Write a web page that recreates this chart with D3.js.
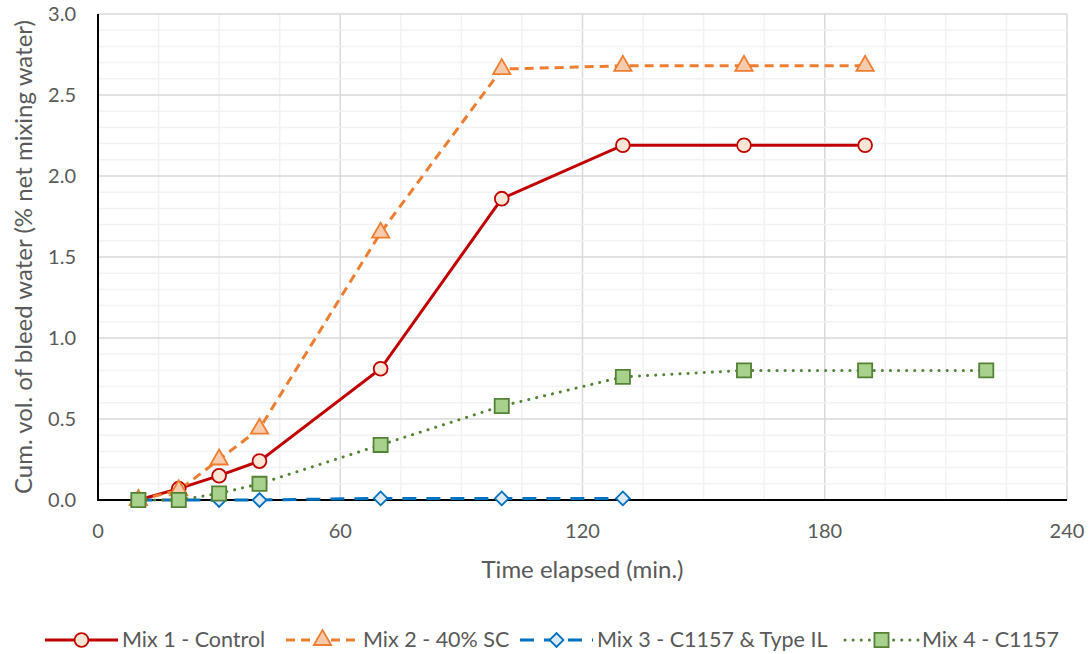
<!DOCTYPE html>
<html lang="en">
<head>
<meta charset="utf-8">
<title>Bleed water</title>
<script src="https://cdn.jsdelivr.net/npm/d3@7"></script>
<style>
  body { margin: 0; background: #fff; }
  text { font-family: Lato, "Open Sans", sans-serif; fill: #595959; }
</style>
</head>
<body>
<svg id="chart" width="1089" height="654"></svg>
<script>
// time (min.) for each series
var times = [10, 20, 30, 40, 70, 100, 130, 160, 190, 220];
var mix1 = [0, 0.07, 0.15, 0.24, 0.81, 1.86, 2.19, 2.19, 2.19];
var mix2 = [0, 0.06, 0.25, 0.44, 1.65, 2.66, 2.68, 2.68, 2.68];
var mix3 = [0, 0, 0, 0, 0.01, 0.01, 0.01];
var mix4 = [0, 0, 0.04, 0.10, 0.34, 0.58, 0.76, 0.80, 0.80, 0.80];
var seriesNames = ["Mix 1 - Control", "Mix 2 - 40% SC", "Mix 3 - C1157 & Type IL", "Mix 4 - C1157"];
var xTicks = [0, 60, 120, 180, 240];
var yTicks = [0, 0.5, 1.0, 1.5, 2.0, 2.5, 3.0];

var series = [
  {name: seriesNames[0], vals: mix1, stroke: "#C00000", fill: "#FBE5D6", dash: null, sym: "circle"},
  {name: seriesNames[1], vals: mix2, stroke: "#ED7D31", fill: "#F8CBAD", dash: "9,6", sym: "triangle"},
  {name: seriesNames[2], vals: mix3, stroke: "#0070C0", fill: "#DEEBF7", dash: "14,10", sym: "diamond"},
  {name: seriesNames[3], vals: mix4, stroke: "#548235", fill: "#A9D18E", dash: "0.1,8", sym: "square"}
];

var svg = d3.select("#chart");
var m = {left: 98, top: 14, right: 22, bottom: 154};
var W = 1089, H = 654;
var x = d3.scaleLinear().domain([0, 240]).range([m.left, W - m.right]);
var y = d3.scaleLinear().domain([0, 3]).range([H - m.bottom, m.top]);

var g = svg.append("g");
// grid: minor every 15 min / 0.1, major every 60 min / 0.5
g.selectAll(".vgrid").data(d3.range(15, 241, 15)).enter().append("line")
  .attr("x1", d => x(d)).attr("x2", d => x(d)).attr("y1", y(0)).attr("y2", y(3))
  .attr("stroke", d => d % 60 === 0 ? "#D9D9D9" : "#F2F2F2").attr("stroke-width", 1.5);
g.selectAll(".hgrid").data(d3.range(1, 31)).enter().append("line")
  .attr("x1", x(0)).attr("x2", x(240)).attr("y1", d => y(d / 10)).attr("y2", d => y(d / 10))
  .attr("stroke", d => d % 5 === 0 ? "#D9D9D9" : "#F2F2F2").attr("stroke-width", 1.5);

// axes
g.append("line").attr("x1", x(0)).attr("x2", x(0)).attr("y1", y(0)).attr("y2", y(3))
  .attr("stroke", "#000").attr("stroke-width", 2);
g.append("line").attr("x1", x(0) - 1).attr("x2", x(240)).attr("y1", y(0)).attr("y2", y(0))
  .attr("stroke", "#000").attr("stroke-width", 2);

g.selectAll(".xt").data(xTicks).enter().append("text")
  .attr("x", d => x(d)).attr("y", y(0) + 38).attr("text-anchor", "middle")
  .attr("font-size", 20).text(d => d);
g.selectAll(".yt").data(yTicks).enter().append("text")
  .attr("x", x(0) - 22).attr("y", d => y(d) + 7).attr("text-anchor", "end")
  .attr("font-size", 20).text(d => d.toFixed(1));

svg.append("text").attr("x", (x(0) + x(240)) / 2).attr("y", 578).attr("text-anchor", "middle")
  .attr("font-size", 24).text("Time elapsed (min.)");
svg.append("text").attr("transform", "translate(32," + ((y(0) + y(3)) / 2) + ") rotate(-90)")
  .attr("text-anchor", "middle").attr("font-size", 24).text("Cum. vol. of bleed water (% net mixing water)");

// diamond drawn as a square turned 45 degrees
function symbolPath(sym) {
  var types = {circle: d3.symbolCircle, triangle: d3.symbolTriangle, diamond: d3.symbolSquare, square: d3.symbolSquare};
  var sizes = {circle: 150, triangle: 130, diamond: 95, square: 200};
  return d3.symbol().type(types[sym]).size(sizes[sym])();
}
function rot(sym) { return sym === "diamond" ? " rotate(45)" : ""; }

var line = d3.line().x(d => x(d[0])).y(d => y(d[1]));
series.forEach(function(s) {
  var pts = s.vals.map((v, i) => [times[i], v]);
  g.append("path").datum(pts).attr("d", line).attr("fill", "none")
    .attr("stroke", s.stroke).attr("stroke-width", 3)
    .attr("stroke-dasharray", s.dash).attr("stroke-linecap", s.sym === "square" ? "round" : "butt");
});
series.forEach(function(s) {
  var pts = s.vals.map((v, i) => [times[i], v]);
  g.selectAll(null).data(pts).enter().append("path")
    .attr("d", symbolPath(s.sym))
    .attr("transform", d => "translate(" + x(d[0]) + "," + y(d[1]) + ")" + rot(s.sym))
    .attr("fill", s.fill).attr("stroke", s.stroke).attr("stroke-width", 1.8);
});

// legend
var legX = [45, 286, 520, 845];
var lg = svg.append("g").attr("transform", "translate(0,640)");
series.forEach(function(s, i) {
  var gi = lg.append("g").attr("transform", "translate(" + legX[i] + ",0)");
  gi.append("line").attr("x1", 0).attr("x2", 73).attr("y1", 0).attr("y2", 0)
    .attr("stroke", s.stroke).attr("stroke-width", 3)
    .attr("stroke-dasharray", s.dash).attr("stroke-linecap", s.sym === "square" ? "round" : "butt");
  gi.append("path").attr("d", symbolPath(s.sym))
    .attr("transform", "translate(36.5,0)" + rot(s.sym))
    .attr("fill", s.fill).attr("stroke", s.stroke).attr("stroke-width", 1.8);
  gi.append("text").attr("x", 77).attr("y", 7).attr("font-size", 21.5).text(s.name);
});
</script>
</body>
</html>
